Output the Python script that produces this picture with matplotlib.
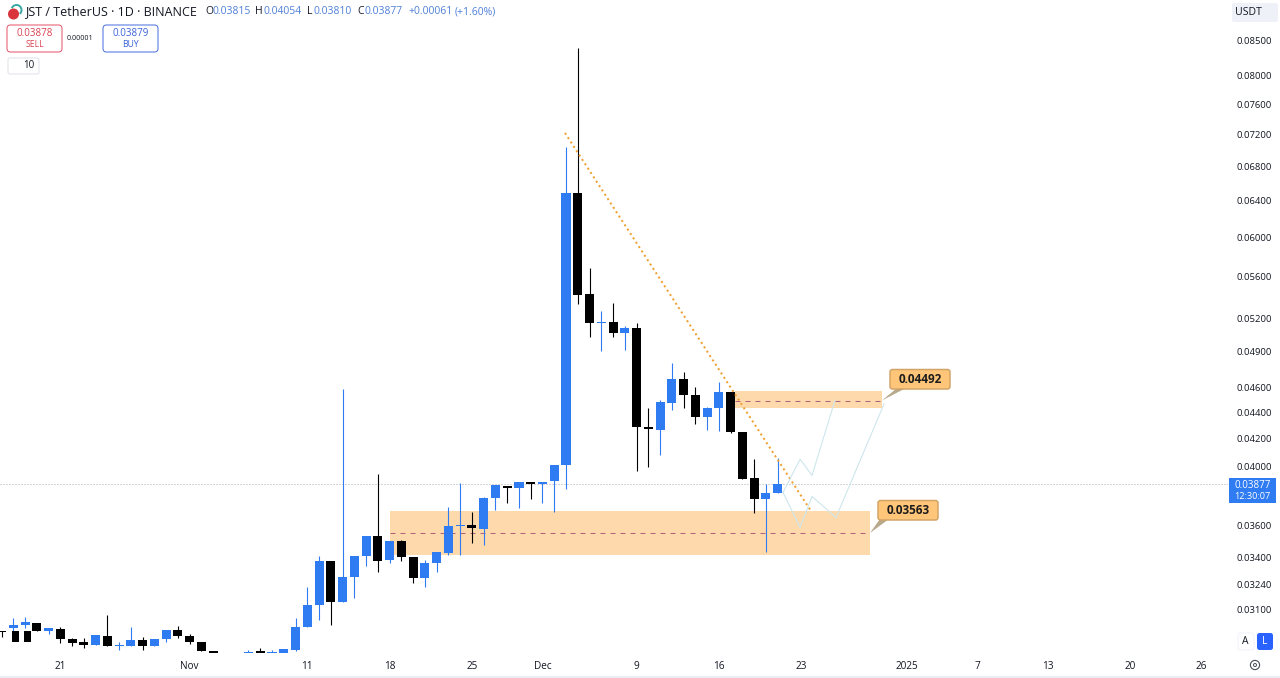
import matplotlib
matplotlib.use("Agg")
import matplotlib.pyplot as plt
from matplotlib.patches import FancyBboxPatch, Rectangle, Polygon, Circle, Arc
from matplotlib.ticker import NullLocator

plt.rcParams['font.family'] = ['Open Sans', 'DejaVu Sans']

# ---- data -------------------------------------------------------------
days = list(range(-46, 21))   # days relative to 1 Dec 2024
opens = [.02987,.03001,.03015,.03029,.02983,.02997,.02944,.02926,.02914,.02960,.02908,.02908,.02936,.02905,.02943,.02988,.02960,.02928,.02879,.02865,.02855,.02868,.02879,.02868,.02868,.02888,.03004,.03124,.03378,.03142,.03287,.03412,.03536,.03388,.03500,.03406,.03279,.03368,.03429,.03595,.03601,.03580,.03777,.03864,.03849,.03890,.03871,.03894,.04005,.06491,.05425,.05153,.05165,.05065,.05111,.04287,.04265,.04474,.04665,.04536,.04361,.04432,.04558,.04250,.03918,.03772,.03815]
highs = [.02987,.03055,.03058,.03029,.03001,.03004,.02951,.02948,.02962,.03073,.02926,.03004,.02953,.02944,.02992,.03013,.02971,.02928,.02879,.02865,.02868,.02884,.02897,.02884,.02891,.03055,.03225,.03412,.03378,.04585,.03412,.03536,.03946,.03500,.03511,.03406,.03384,.03435,.03718,.03878,.03685,.03788,.03867,.03864,.03890,.03890,.03890,.04005,.07044,.08395,.05687,.05265,.05344,.05123,.05157,.04432,.04498,.04799,.04728,.04604,.04442,.04645,.04558,.04250,.04053,.03871,.04054]
lows = [.02955,.02983,.03001,.02987,.02971,.02923,.02908,.02897,.02914,.02908,.02888,.02908,.02884,.02905,.02930,.02948,.02919,.02879,.02865,.02820,.02835,.02860,.02860,.02860,.02868,.02879,.03004,.03046,.03019,.03142,.03166,.03352,.03312,.03370,.03378,.03250,.03225,.03312,.03414,.03414,.03487,.03477,.03703,.03743,.03716,.03770,.03743,.03685,.03837,.05327,.05027,.04908,.05027,.04917,.03962,.03995,.04079,.04416,.04437,.04310,.04265,.04253,.04240,.03911,.03683,.03437,.03810]
closes = [.02979,.03019,.03032,.02987,.03001,.02943,.02923,.02913,.02962,.02908,.02914,.02936,.02905,.02944,.02992,.02960,.02928,.02879,.02871,.02840,.02835,.02878,.02868,.02875,.02891,.03004,.03124,.03378,.03142,.03287,.03412,.03536,.03382,.03500,.03406,.03279,.03368,.03435,.03595,.03604,.03585,.03777,.03867,.03849,.03890,.03871,.03890,.04005,.06491,.05418,.05153,.05168,.05065,.05111,.04287,.04268,.04477,.04665,.04534,.04361,.04432,.04558,.04245,.03911,.03772,.03810,.03877]
overlap_days = [-44.8, -43.8]
overlap_top = [.02987, .02987]
overlap_bottom = [.02930, .02930]

y_tick_values = [.085,.08,.076,.072,.068,.064,.06,.056,.052,.049,.046,.044,.042,.04,.036,.034,.0324,.031]
y_tick_labels = ['0.08500','0.08000','0.07600','0.07200','0.06800','0.06400','0.06000','0.05600','0.05200','0.04900','0.04600','0.04400','0.04200','0.04000','0.03600','0.03400','0.03240','0.03100']
x_tick_days = [-41,-30,-20,-13,-6,0,8,15,22,31,37,43,50,56]
x_tick_labels = ['21','Nov','11','18','25','Dec','9','16','23','2025','7','13','20','26']

zone_upper = dict(start=16.37, end=28.84, top=.04571, bottom=.04437, line=.04492)
zone_lower = dict(start=-13.0, end=27.85, top=.03692, bottom=.03415, line=.03555)
trend_days = [1.91, 22.75]
trend_prices = [.07221, .03703]
path_a_days = [20.45, 21.9, 22.92, 24.87]
path_a_prices = [.03817, .04048, .03934, .04496]
path_b_days = [20.45, 21.9, 22.92, 24.96, 29.04]
path_b_prices = [.03817, .03587, .03790, .03651, .04465]
last_price = .03877

BLUE = '#2f7bf2'
BLACK = '#000000'
W, H = 1280, 678
PX = 72 / 100

fig = plt.figure(figsize=(W / 100, H / 100), dpi=100, facecolor='white')
ax = fig.add_axes([0, 25 / H, 1228 / W, 653 / H])
ax.set_yscale('log')
ax.set_xlim(-46.13, 58.29)
ax.set_ylim(.02871, .09141)
for s in ax.spines.values():
    s.set_visible(False)

# zones
ZONE = '#fdd9ab'
for z in (zone_upper, zone_lower):
    ax.add_patch(Rectangle((z['start'], z['bottom']), z['end'] - z['start'], z['top'] - z['bottom'],
                           facecolor=ZONE, edgecolor='none', zorder=1))
    ax.plot([z['start'], z['end']], [z['line'], z['line']], color='#b4607c', lw=1 * PX,
            ls=(0, (5, 5)), zorder=2.5)

ax.axhline(last_price, color='#a8adb5', lw=1 * PX, ls=(0, (1, 2)), zorder=1.5)

# candles
colors = [BLUE if c >= o else BLACK for o, c in zip(opens, closes)]
ax.vlines(days, lows, highs, colors=colors, lw=1.1 * PX, zorder=3)
tops = [max(o, c) for o, c in zip(opens, closes)]
bots = [min(o, c) for o, c in zip(opens, closes)]
ax.bar(days, [t - b for t, b in zip(tops, bots)], bottom=bots, width=0.77, color=colors, zorder=4,
       linewidth=0)
ax.bar(overlap_days, [t - b for t, b in zip(overlap_top, overlap_bottom)], bottom=overlap_bottom,
       width=0.55, color=BLACK, zorder=4, linewidth=0)

# drawings
ax.plot(trend_days, trend_prices, color='#f0a030', lw=2.0 * PX, ls=(0, (1, 1.6)), zorder=5)
ax.plot(path_a_days, path_a_prices, color='#cde6ec', lw=1.1 * PX, zorder=5)
ax.plot(path_b_days, path_b_prices, color='#cde6ec', lw=1.1 * PX, zorder=5)

# axes labels
ax.yaxis.tick_right()
ax.set_yticks(y_tick_values, y_tick_labels)
ax.yaxis.set_minor_locator(NullLocator())
ax.tick_params(axis='y', length=0, pad=5.8, labelsize=6.8, labelcolor='#131722')
ax.set_xticks(x_tick_days, x_tick_labels)
ax.tick_params(axis='x', length=0, pad=5.5, labelsize=7.2, labelcolor='#131722')

# ---- overlay in pixel space for the trading UI ----------------------
ui = fig.add_axes([0, 0, 1, 1], facecolor='none', zorder=10)
ui.set_xlim(0, W)
ui.set_ylim(H, 0)
ui.axis('off')

def box(x0, y0, x1, y1, fc, ec, r=2.5, lw=1.0, z=3):
    ui.add_patch(FancyBboxPatch((x0 + r, y0 + r), x1 - x0 - 2 * r, y1 - y0 - 2 * r,
                                boxstyle=f'round,pad={r},rounding_size={r}', fc=fc, ec=ec, lw=lw * PX, zorder=z))

# value callouts
ARROW = '#b9a98c'
ui.add_patch(Polygon([(882, 400.5), (897, 388), (906, 388)], fc=ARROW, ec='none', zorder=2))
ui.add_patch(Polygon([(870, 533), (880, 519), (889, 519)], fc=ARROW, ec='none', zorder=2))
box(890, 369.5, 950, 389, '#ffc578', '#d2a468', lw=1.5)
box(878, 500.5, 938, 520, '#ffc578', '#d2a468', lw=1.5)
ui.text(920, 379.5, '0.04492', ha='center', va='center', fontsize=8.5, fontweight='bold', color='#1c1c1c')
ui.text(908, 510.5, '0.03563', ha='center', va='center', fontsize=8.5, fontweight='bold', color='#1c1c1c')

# header
ui.add_patch(Circle((13.5, 14), 5.5, fc='#d8363c', ec='none'))
ui.add_patch(Arc((16.5, 10), 10, 10, theta1=200, theta2=50, color='#3aa6a0', lw=1.4))
ui.text(25, 12, 'JST / TetherUS · 1D · BINANCE', ha='left', va='center', fontsize=9.0, color='#131722')
OHLC_BLUE = '#4f80d8'
items = [(205, 'O', '#131722'), (212.5, '0.03815', OHLC_BLUE), (255.5, 'H', '#131722'), (263.5, '0.04054', OHLC_BLUE),
         (307, 'L', '#131722'), (313.5, '0.03810', OHLC_BLUE), (357, 'C', '#131722'), (364.5, '0.03877', OHLC_BLUE),
         (408, '+0.00061', OHLC_BLUE), (455, '(+1.60%)', OHLC_BLUE)]
for x, s, c in items:
    ui.text(x, 12, s, ha='left', va='center', fontsize=7.5, color=c)

box(7, 25, 62, 52, 'white', '#e8556a', r=3.5)
box(103, 25, 158, 52, 'white', '#4a6fe0', r=3.5)
ui.text(34.5, 33, '0.03878', ha='center', va='center', fontsize=7, color='#d8404f')
ui.text(34.5, 44.5, 'SELL', ha='center', va='center', fontsize=6.2, color='#d8404f')
ui.text(130.5, 33, '0.03879', ha='center', va='center', fontsize=7, color='#3a62d8')
ui.text(130.5, 44.5, 'BUY', ha='center', va='center', fontsize=6.2, color='#3a62d8')
ui.text(80, 39, '0.00001', ha='center', va='center', fontsize=5.2, color='#131722')
box(8, 58, 39, 74, 'white', '#e0e3eb', r=2)
ui.plot([13, 15.5, 18], [64.5, 67, 64.5], color='#131722', lw=0.7)
ui.text(29, 65.5, '10', ha='center', va='center', fontsize=7, color='#131722')

# right scale widgets
box(1232, 3, 1278, 22, '#eef1f8', 'none', r=2.5)
ui.text(1235, 12.5, 'USDT', ha='left', va='center', fontsize=7.6, color='#131722')
ui.plot([1269.5, 1271.5, 1273.5], [11.5, 13.5, 11.5], color='#131722', lw=0.6)
ui.add_patch(Rectangle((1229, 478), 47, 25, fc=BLUE, ec='none', zorder=3))
ui.text(1252.5, 485, '0.03877', ha='center', va='center', fontsize=7, color='white', zorder=4)
ui.text(1252.5, 496.5, '12:30:07', ha='center', va='center', fontsize=6.6, color='white', zorder=4)
box(1238, 633, 1254, 650, 'white', '#f0f3fa', r=2.5)
ui.text(1245.5, 641.5, 'A', ha='center', va='center', fontsize=7.4, color='#131722')
box(1257, 633, 1273, 650, '#2962ff', 'none', r=2.5)
ui.text(1265, 641.5, 'L', ha='center', va='center', fontsize=7.4, color='white')
ui.add_patch(Circle((1255, 665), 4.6, fc='none', ec='#4a4f5a', lw=0.8))
ui.add_patch(Circle((1255, 665), 1.5, fc='none', ec='#4a4f5a', lw=0.7))
ui.add_patch(Rectangle((0, 675.5), W, 2.5, fc='#eceef2', ec='none'))

fig.savefig('out.png', dpi=100)
